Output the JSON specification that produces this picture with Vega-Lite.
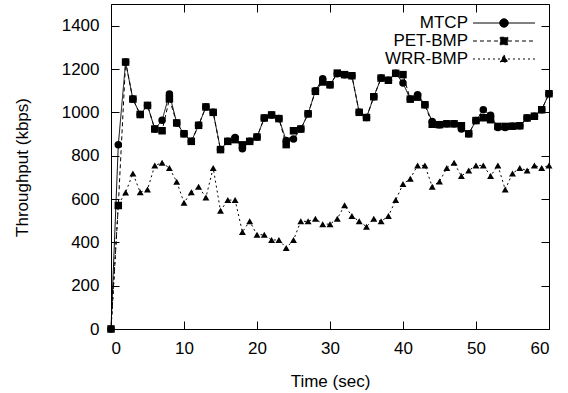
{
  "$schema": "https://vega.github.io/schema/vega-lite/v6.json",
  "autosize": "none",
  "width": 438,
  "height": 325,
  "padding": {"left": 111, "top": 4, "right": 19, "bottom": 64},
  "background": "white",
  "config": {
    "font": "Liberation Sans",
    "view": {"stroke": "black", "strokeWidth": 1},
    "axis": {
      "domain": false,
      "grid": false,
      "ticks": true,
      "tickColor": "black",
      "tickWidth": 1,
      "tickSize": -8,
      "labelFont": "Liberation Sans",
      "labelFontSize": 17,
      "labelColor": "black",
      "titleFont": "Liberation Sans",
      "titleFontSize": 17,
      "titleFontWeight": "normal",
      "titleColor": "black"
    }
  },
  "data": {
    "values": [
      {"t": 0, "s": "MTCP", "v": 0}, {"t": 1, "s": "MTCP", "v": 850}, {"t": 2, "s": "MTCP", "v": 1232}, {"t": 3, "s": "MTCP", "v": 1061}, {"t": 4, "s": "MTCP", "v": 990}, {"t": 5, "s": "MTCP", "v": 1032}, {"t": 6, "s": "MTCP", "v": 923}, {"t": 7, "s": "MTCP", "v": 963}, {"t": 8, "s": "MTCP", "v": 1085}, {"t": 9, "s": "MTCP", "v": 951}, {"t": 10, "s": "MTCP", "v": 901}, {"t": 11, "s": "MTCP", "v": 866}, {"t": 12, "s": "MTCP", "v": 940}, {"t": 13, "s": "MTCP", "v": 1025}, {"t": 14, "s": "MTCP", "v": 1000}, {"t": 15, "s": "MTCP", "v": 828}, {"t": 16, "s": "MTCP", "v": 866}, {"t": 17, "s": "MTCP", "v": 884}, {"t": 18, "s": "MTCP", "v": 832}, {"t": 19, "s": "MTCP", "v": 866}, {"t": 20, "s": "MTCP", "v": 886}, {"t": 21, "s": "MTCP", "v": 974}, {"t": 22, "s": "MTCP", "v": 988}, {"t": 23, "s": "MTCP", "v": 971}, {"t": 24, "s": "MTCP", "v": 870}, {"t": 25, "s": "MTCP", "v": 877}, {"t": 26, "s": "MTCP", "v": 923}, {"t": 27, "s": "MTCP", "v": 993}, {"t": 28, "s": "MTCP", "v": 1100}, {"t": 29, "s": "MTCP", "v": 1155}, {"t": 30, "s": "MTCP", "v": 1127}, {"t": 31, "s": "MTCP", "v": 1178}, {"t": 32, "s": "MTCP", "v": 1174}, {"t": 33, "s": "MTCP", "v": 1169}, {"t": 34, "s": "MTCP", "v": 1000}, {"t": 35, "s": "MTCP", "v": 976}, {"t": 36, "s": "MTCP", "v": 1072}, {"t": 37, "s": "MTCP", "v": 1158}, {"t": 38, "s": "MTCP", "v": 1148}, {"t": 39, "s": "MTCP", "v": 1180}, {"t": 40, "s": "MTCP", "v": 1135}, {"t": 41, "s": "MTCP", "v": 1061}, {"t": 42, "s": "MTCP", "v": 1081}, {"t": 43, "s": "MTCP", "v": 1035}, {"t": 44, "s": "MTCP", "v": 958}, {"t": 45, "s": "MTCP", "v": 943}, {"t": 46, "s": "MTCP", "v": 947}, {"t": 47, "s": "MTCP", "v": 947}, {"t": 48, "s": "MTCP", "v": 923}, {"t": 49, "s": "MTCP", "v": 901}, {"t": 50, "s": "MTCP", "v": 962}, {"t": 51, "s": "MTCP", "v": 1012}, {"t": 52, "s": "MTCP", "v": 986}, {"t": 53, "s": "MTCP", "v": 930}, {"t": 54, "s": "MTCP", "v": 930}, {"t": 55, "s": "MTCP", "v": 936}, {"t": 56, "s": "MTCP", "v": 938}, {"t": 57, "s": "MTCP", "v": 974}, {"t": 58, "s": "MTCP", "v": 982}, {"t": 59, "s": "MTCP", "v": 1012}, {"t": 60, "s": "MTCP", "v": 1086},
      {"t": 0, "s": "PET-BMP", "v": 0}, {"t": 1, "s": "PET-BMP", "v": 570}, {"t": 2, "s": "PET-BMP", "v": 1232}, {"t": 3, "s": "PET-BMP", "v": 1061}, {"t": 4, "s": "PET-BMP", "v": 990}, {"t": 5, "s": "PET-BMP", "v": 1032}, {"t": 6, "s": "PET-BMP", "v": 923}, {"t": 7, "s": "PET-BMP", "v": 915}, {"t": 8, "s": "PET-BMP", "v": 1062}, {"t": 9, "s": "PET-BMP", "v": 951}, {"t": 10, "s": "PET-BMP", "v": 901}, {"t": 11, "s": "PET-BMP", "v": 866}, {"t": 12, "s": "PET-BMP", "v": 940}, {"t": 13, "s": "PET-BMP", "v": 1025}, {"t": 14, "s": "PET-BMP", "v": 1000}, {"t": 15, "s": "PET-BMP", "v": 828}, {"t": 16, "s": "PET-BMP", "v": 866}, {"t": 17, "s": "PET-BMP", "v": 874}, {"t": 18, "s": "PET-BMP", "v": 850}, {"t": 19, "s": "PET-BMP", "v": 866}, {"t": 20, "s": "PET-BMP", "v": 886}, {"t": 21, "s": "PET-BMP", "v": 974}, {"t": 22, "s": "PET-BMP", "v": 988}, {"t": 23, "s": "PET-BMP", "v": 971}, {"t": 24, "s": "PET-BMP", "v": 851}, {"t": 25, "s": "PET-BMP", "v": 915}, {"t": 26, "s": "PET-BMP", "v": 923}, {"t": 27, "s": "PET-BMP", "v": 993}, {"t": 28, "s": "PET-BMP", "v": 1097}, {"t": 29, "s": "PET-BMP", "v": 1140}, {"t": 30, "s": "PET-BMP", "v": 1127}, {"t": 31, "s": "PET-BMP", "v": 1181}, {"t": 32, "s": "PET-BMP", "v": 1174}, {"t": 33, "s": "PET-BMP", "v": 1169}, {"t": 34, "s": "PET-BMP", "v": 1000}, {"t": 35, "s": "PET-BMP", "v": 976}, {"t": 36, "s": "PET-BMP", "v": 1072}, {"t": 37, "s": "PET-BMP", "v": 1158}, {"t": 38, "s": "PET-BMP", "v": 1148}, {"t": 39, "s": "PET-BMP", "v": 1180}, {"t": 40, "s": "PET-BMP", "v": 1174}, {"t": 41, "s": "PET-BMP", "v": 1061}, {"t": 42, "s": "PET-BMP", "v": 1070}, {"t": 43, "s": "PET-BMP", "v": 1035}, {"t": 44, "s": "PET-BMP", "v": 945}, {"t": 45, "s": "PET-BMP", "v": 943}, {"t": 46, "s": "PET-BMP", "v": 947}, {"t": 47, "s": "PET-BMP", "v": 947}, {"t": 48, "s": "PET-BMP", "v": 938}, {"t": 49, "s": "PET-BMP", "v": 901}, {"t": 50, "s": "PET-BMP", "v": 962}, {"t": 51, "s": "PET-BMP", "v": 975}, {"t": 52, "s": "PET-BMP", "v": 966}, {"t": 53, "s": "PET-BMP", "v": 935}, {"t": 54, "s": "PET-BMP", "v": 935}, {"t": 55, "s": "PET-BMP", "v": 936}, {"t": 56, "s": "PET-BMP", "v": 938}, {"t": 57, "s": "PET-BMP", "v": 974}, {"t": 58, "s": "PET-BMP", "v": 982}, {"t": 59, "s": "PET-BMP", "v": 1012}, {"t": 60, "s": "PET-BMP", "v": 1086},
      {"t": 0, "s": "WRR-BMP", "v": 0}, {"t": 1, "s": "WRR-BMP", "v": 575}, {"t": 2, "s": "WRR-BMP", "v": 630}, {"t": 3, "s": "WRR-BMP", "v": 718}, {"t": 4, "s": "WRR-BMP", "v": 631}, {"t": 5, "s": "WRR-BMP", "v": 644}, {"t": 6, "s": "WRR-BMP", "v": 755}, {"t": 7, "s": "WRR-BMP", "v": 767}, {"t": 8, "s": "WRR-BMP", "v": 743}, {"t": 9, "s": "WRR-BMP", "v": 680}, {"t": 10, "s": "WRR-BMP", "v": 583}, {"t": 11, "s": "WRR-BMP", "v": 631}, {"t": 12, "s": "WRR-BMP", "v": 657}, {"t": 13, "s": "WRR-BMP", "v": 607}, {"t": 14, "s": "WRR-BMP", "v": 743}, {"t": 15, "s": "WRR-BMP", "v": 546}, {"t": 16, "s": "WRR-BMP", "v": 595}, {"t": 17, "s": "WRR-BMP", "v": 595}, {"t": 18, "s": "WRR-BMP", "v": 448}, {"t": 19, "s": "WRR-BMP", "v": 497}, {"t": 20, "s": "WRR-BMP", "v": 435}, {"t": 21, "s": "WRR-BMP", "v": 435}, {"t": 22, "s": "WRR-BMP", "v": 411}, {"t": 23, "s": "WRR-BMP", "v": 411}, {"t": 24, "s": "WRR-BMP", "v": 374}, {"t": 25, "s": "WRR-BMP", "v": 411}, {"t": 26, "s": "WRR-BMP", "v": 497}, {"t": 27, "s": "WRR-BMP", "v": 497}, {"t": 28, "s": "WRR-BMP", "v": 509}, {"t": 29, "s": "WRR-BMP", "v": 484}, {"t": 30, "s": "WRR-BMP", "v": 484}, {"t": 31, "s": "WRR-BMP", "v": 509}, {"t": 32, "s": "WRR-BMP", "v": 571}, {"t": 33, "s": "WRR-BMP", "v": 521}, {"t": 34, "s": "WRR-BMP", "v": 497}, {"t": 35, "s": "WRR-BMP", "v": 472}, {"t": 36, "s": "WRR-BMP", "v": 509}, {"t": 37, "s": "WRR-BMP", "v": 497}, {"t": 38, "s": "WRR-BMP", "v": 521}, {"t": 39, "s": "WRR-BMP", "v": 595}, {"t": 40, "s": "WRR-BMP", "v": 669}, {"t": 41, "s": "WRR-BMP", "v": 694}, {"t": 42, "s": "WRR-BMP", "v": 755}, {"t": 43, "s": "WRR-BMP", "v": 755}, {"t": 44, "s": "WRR-BMP", "v": 657}, {"t": 45, "s": "WRR-BMP", "v": 681}, {"t": 46, "s": "WRR-BMP", "v": 743}, {"t": 47, "s": "WRR-BMP", "v": 767}, {"t": 48, "s": "WRR-BMP", "v": 706}, {"t": 49, "s": "WRR-BMP", "v": 731}, {"t": 50, "s": "WRR-BMP", "v": 755}, {"t": 51, "s": "WRR-BMP", "v": 755}, {"t": 52, "s": "WRR-BMP", "v": 706}, {"t": 53, "s": "WRR-BMP", "v": 755}, {"t": 54, "s": "WRR-BMP", "v": 644}, {"t": 55, "s": "WRR-BMP", "v": 718}, {"t": 56, "s": "WRR-BMP", "v": 743}, {"t": 57, "s": "WRR-BMP", "v": 731}, {"t": 58, "s": "WRR-BMP", "v": 755}, {"t": 59, "s": "WRR-BMP", "v": 743}, {"t": 60, "s": "WRR-BMP", "v": 755}
    ]
  },
  "layer": [
    {
      "mark": {"type": "line", "strokeWidth": 1, "clip": false},
      "encoding": {
        "x": {
          "field": "t", "type": "quantitative",
          "scale": {"domain": [0, 60], "nice": false, "zero": false},
          "axis": {"orient": "bottom", "title": "Time (sec)", "values": [0, 10, 20, 30, 40, 50, 60], "labelPadding": 19, "titleX": 219, "titleY": 52, "titleBaseline": "middle", "titleAnchor": "middle"}
        },
        "y": {
          "field": "v", "type": "quantitative",
          "scale": {"domain": [0, 1500], "nice": false},
          "axis": {"orient": "left", "title": "Throughput (kbps)", "format": "d", "values": [0, 200, 400, 600, 800, 1000, 1200, 1400], "labelPadding": 20, "titleX": -89, "titleY": 163, "titleBaseline": "middle", "titleAnchor": "middle", "titleAngle": -90}
        },
        "color": {
          "field": "s", "type": "nominal",
          "scale": {"domain": ["MTCP", "PET-BMP", "WRR-BMP"], "range": ["black", "black", "black"]},
          "legend": {
            "title": null,
            "orient": "none",
            "legendX": 384,
            "legendY": 10,
            "labelAlign": "right",
            "labelOffset": -45,
            "labelFont": "Liberation Sans",
            "labelFontSize": 17,
            "labelColor": "black",
            "symbolSize": 289,
            "symbolOffset": 0,
            "symbolStrokeWidth": 1,
            "rowPadding": 1,
            "padding": 0,
            "encode": {
              "symbols": {
                "update": {
                  "shape": {"signal": "datum.value === 'MTCP' ? 'M-3.65,0H3.65M0.5,0A0.5,0.5,0,1,1,-0.5,0A0.5,0.5,0,1,1,0.5,0Z' : datum.value === 'PET-BMP' ? 'M-3.65,0H3.65M-0.44,-0.44H0.44V0.44H-0.44Z' : 'M-3.65,0H3.65M0,-0.48L0.44,0.36H-0.44Z'"},
                  "strokeDash": {"signal": "datum.value === 'PET-BMP' ? [4,3] : datum.value === 'WRR-BMP' ? [2,3] : [1,0]"},
                  "fill": {"value": "black"},
                  "fillOpacity": {"value": 1},
                  "stroke": {"value": "black"},
                  "opacity": {"value": 1}
                }
              }
            }
          }
        },
        "strokeDash": {
          "field": "s", "type": "nominal",
          "scale": {"domain": ["MTCP", "PET-BMP", "WRR-BMP"], "range": [[1, 0], [4, 3], [2, 3]]},
          "legend": null
        }
      }
    },
    {
      "transform": [{"filter": "datum.s === 'MTCP'"}],
      "mark": {"type": "point", "shape": "circle", "filled": true, "opacity": 1, "size": 56, "color": "black", "clip": false},
      "encoding": {
        "x": {
          "field": "t", "type": "quantitative",
          "axis": {"orient": "top", "title": null, "labels": false, "values": [0, 10, 20, 30, 40, 50, 60]}
        },
        "y": {
          "field": "v", "type": "quantitative",
          "axis": {"orient": "right", "title": null, "labels": false, "values": [0, 200, 400, 600, 800, 1000, 1200, 1400]}
        }
      }
    },
    {
      "transform": [{"filter": "datum.s === 'PET-BMP'"}],
      "mark": {"type": "point", "shape": "square", "filled": true, "opacity": 1, "size": 56, "color": "black", "clip": false},
      "encoding": {
        "x": {"field": "t", "type": "quantitative", "axis": null},
        "y": {"field": "v", "type": "quantitative", "axis": null}
      }
    },
    {
      "transform": [{"filter": "datum.s === 'WRR-BMP'"}],
      "mark": {"type": "point", "shape": "triangle-up", "filled": true, "opacity": 1, "size": 48, "color": "black", "clip": false},
      "encoding": {
        "x": {"field": "t", "type": "quantitative", "axis": null},
        "y": {"field": "v", "type": "quantitative", "axis": null}
      }
    }
  ],
  "resolve": {"axis": {"x": "independent", "y": "independent"}}
}
